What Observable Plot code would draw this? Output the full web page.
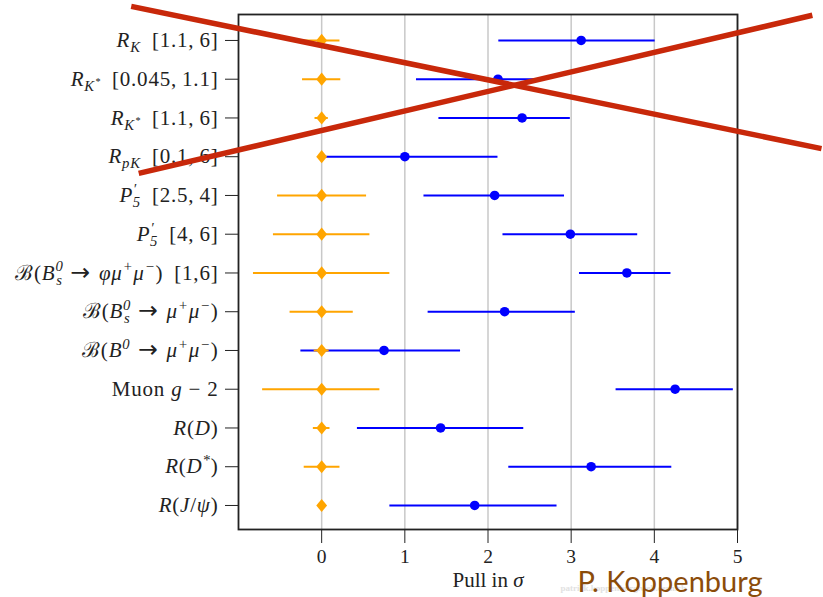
<!DOCTYPE html>
<html>
<head>
<meta charset="utf-8">
<script src="https://cdn.jsdelivr.net/npm/d3@7"></script>
<script src="https://cdn.jsdelivr.net/npm/@observablehq/plot@0.6"></script>
<style>
  html, body { margin: 0; padding: 0; background: white; }
</style>
</head>
<body>
<div id="chart"></div>
<script>
// ---- data ----
const labels = [
  "$R_{K}$ \u2009[1.1,\u20096]",
  "$R_{K^{*}}$ \u2009[0.045,\u20091.1]",
  "$R_{K^{*}}$ \u2009[1.1,\u20096]",
  "$R_{pK}$ \u2009[0.1,\u20096]",
  "$P^{′}_{5}$ \u2009[2.5,\u20094]",
  "$P^{′}_{5}$ \u2009[4,\u20096]",
  "ℬ($B^{0}_{s}$\u2004→\u2004$φμ^{+}μ^{−}$) \u2009[1,6]",
  "ℬ($B^{0}_{s}$\u2004→\u2004$μ^{+}μ^{−}$)",
  "ℬ($B^{0}$\u2004→\u2004$μ^{+}μ^{−}$)",
  "Muon $g$ − 2",
  "$R$($D$)",
  "$R$($D^{*}$)",
  "$R$($J$/$ψ$)"
];
const measuredPull = [3.12, 2.12, 2.41, 1.00, 2.08, 2.99, 3.67, 2.20, 0.75, 4.25, 1.43, 3.24, 1.84];
const measuredLo   = [2.13, 1.14, 1.41, 0.02, 1.23, 2.18, 3.10, 1.28, -0.25, 3.54, 0.43, 2.25, 0.82];
const measuredHi   = [4.01, 2.58, 2.99, 2.12, 2.92, 3.80, 4.20, 3.05, 1.67, 4.95, 2.43, 4.21, 2.83];
const smPull = [0, 0, 0, 0, 0, 0, 0, 0, 0, 0, 0, 0, 0];
const smLo   = [-0.21, -0.23, -0.08, -0.03, -0.53, -0.58, -0.82, -0.38, -0.09, -0.71, -0.10, -0.21, -0.02];
const smHi   = [0.22, 0.23, 0.08, 0.03, 0.54, 0.58, 0.82, 0.38, 0.09, 0.70, 0.10, 0.22, 0.02];
const xTicks = [0, 1, 2, 3, 4, 5];
const xLabel = "Pull in $σ$";
// red cross-out annotation, in data units (x = pull, y = row index)
const crossAX = [-2.29, 6.01], crossAY = [-0.88, 2.79];
const crossBX = [-2.20, 5.90], crossBY = [3.43, -0.65];
const signature = "P. Koppenburg";
const watermark = "patrick.koppenburg.web.cern.ch";

// ---- build tables ----
const rows = labels.map((label, i) => ({
  i, label,
  mv: measuredPull[i], ml: measuredLo[i], mh: measuredHi[i],
  sv: smPull[i], sl: smLo[i], sh: smHi[i]
}));
const crossA = crossAX.map((x, k) => ({x, y: crossAY[k]}));
const crossB = crossBX.map((x, k) => ({x, y: crossBY[k]}));
const rowIdx = rows.map(d => d.i);

const thinDiamond = {
  draw(ctx, size) {
    const a = Math.sqrt(size) * 0.62, b = a * 0.82;
    ctx.moveTo(0, -a); ctx.lineTo(b, 0); ctx.lineTo(0, a); ctx.lineTo(-b, 0); ctx.closePath();
  }
};

const FS = 19.5;      // x tick labels
const YFS = 21;       // y tick labels
const LABEL_FS = 21;  // x axis label
const chart = Plot.plot({
  width: 823,
  height: 597,
  marginLeft: 238,
  marginRight: 86,
  marginTop: 14,
  marginBottom: 68,
  style: {fontFamily: "'Liberation Serif', 'DejaVu Serif', serif", fontSize: FS + "px", background: "white", color: "#222"},
  x: {domain: [-1, 5]},
  y: {domain: [-0.67, 12.62], reverse: true},
  marks: [
    Plot.gridX(xTicks, {stroke: "#c8c8c8", strokeOpacity: 1, strokeWidth: 1.5}),
    Plot.frame({stroke: "#222", strokeWidth: 1.8}),
    Plot.axisY(rowIdx, {tickSize: 13, tickPadding: 7, tickFormat: i => labels[i], label: null, fontSize: YFS, stroke: "#222"}),
    Plot.axisX(xTicks, {tickSize: 14, tickPadding: 6, label: "Pull in σ", labelAnchor: "center", labelOffset: 57, fontSize: FS, stroke: "#222"}),
    // measured (blue)
    Plot.ruleY(rows, {y: "i", x1: "ml", x2: "mh", stroke: "blue", strokeWidth: 2}),
    Plot.dot(rows, {x: "mv", y: "i", r: 4.8, fill: "blue", stroke: "none"}),
    // SM (orange)
    Plot.ruleY(rows, {y: "i", x1: "sl", x2: "sh", stroke: "orange", strokeWidth: 2}),
    Plot.dot(rows, {x: "sv", y: "i", r: 6, symbol: thinDiamond, fill: "orange", stroke: "none"}),
    // watermark + signature
    Plot.text([watermark], {text: d => d, frameAnchor: "bottom-right", dx: -177, dy: 61, textAnchor: "start", fill: "#e2e2e2", fontSize: 9, fontWeight: "bold"}),
    Plot.text([signature], {text: d => d, frameAnchor: "bottom-right", dx: -160, dy: 62, textAnchor: "start", fill: "#8B4C0A", fontSize: 29, fontFamily: "Lato, 'Open Sans', sans-serif"}),
    // red cross-out
    Plot.line(crossA, {x: "x", y: "y", stroke: "#c8280a", strokeWidth: 5.5, strokeLinecap: "butt"}),
    Plot.line(crossB, {x: "x", y: "y", stroke: "#c8280a", strokeWidth: 5.5, strokeLinecap: "butt"})
  ]
});

// ---- render LaTeX-like markup into tspans ----
function richText(sel, str, fs) {
  sel.text(null);
  const stack = [{scale: 1, shift: 0, type: null}];
  let italic = false, buf = "", cur = 0, pendingDx = 0, lastSup = null;
  const emit = (txt, opts = {}) => {
    const top = stack[stack.length - 1];
    const t = sel.append("tspan").text(txt)
      .attr("font-size", (fs * top.scale * (opts.size || 1)).toFixed(2))
      .attr("font-style", italic && !opts.upright ? "italic" : "normal");
    if (opts.family) t.attr("font-family", opts.family);
    const dy = top.shift - cur;
    if (dy) t.attr("dy", dy.toFixed(2));
    if (pendingDx) { t.attr("dx", pendingDx.toFixed(2)); pendingDx = 0; }
    cur = top.shift;
  };
  const flush = () => { if (buf) { emit(buf); buf = ""; } };
  for (let i = 0; i < str.length; i++) {
    const c = str[i];
    if (c === "$") { flush(); italic = !italic; }
    else if (c === "→") { flush(); emit("→", {family: "'DejaVu Sans', sans-serif", size: 1.12, upright: true}); lastSup = null; }
    else if ((c === "_" || c === "^") && str[i + 1] === "{") {
      flush();
      const top = stack[stack.length - 1];
      if (c === "_" && lastSup) pendingDx = -lastSup.width;
      stack.push({scale: top.scale * 0.7, shift: top.shift + (c === "^" ? -0.40 : 0.24) * fs * top.scale, type: c, start: i + 2});
      i++; lastSup = null;
    } else if (c === "}") {
      flush();
      const g = stack.pop();
      const txt = str.slice(g.start, i);
      lastSup = g.type === "^" ? {width: (txt === "′" ? 0.3 : 0.5) * txt.length * fs * g.scale} : null;
      continue;
    } else { buf += c; lastSup = null; }
  }
  flush();
}

const svg = d3.select(chart);
svg.selectAll('[aria-label="y-axis tick label"] text').each(function(d) {
  const t = d3.select(this);
  richText(t, labels[d], YFS);
  t.attr("letter-spacing", "0.8px");
});
svg.selectAll('[aria-label="x-axis label"] text').each(function() {
  richText(d3.select(this), xLabel, LABEL_FS);
});

document.getElementById("chart").appendChild(chart);
</script>
</body>
</html>
